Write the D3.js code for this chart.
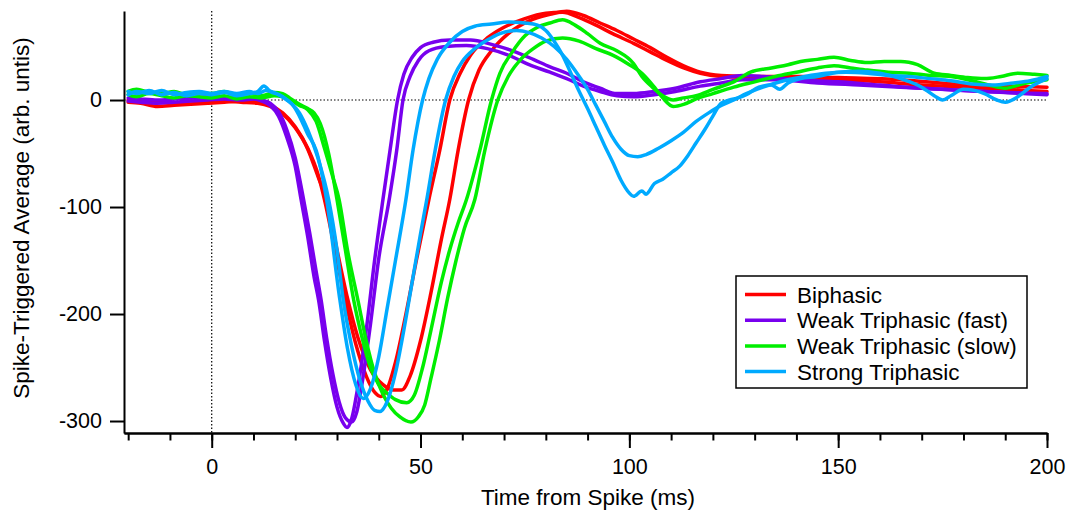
<!DOCTYPE html>
<html>
<head>
<meta charset="utf-8">
<script src="https://cdn.jsdelivr.net/npm/d3@7"></script>
<style>
  body { margin: 0; background: #fff; }
  text { font-family: "Liberation Sans", Arial, sans-serif; fill: #000; }
</style>
</head>
<body>
<div id="wrapper"></div>
<script>
// series: [time (ms), spike-triggered average]
const biphasicA = [[-20,-2],[-17,-3],[-13,-6],[-9,-5],[-5,-4],[-1,-3],[3,-2],[7,-1],[11,-2],[14,-5],[17,-12],[20,-25],[23,-45],[25.5,-70],[27,-93],[29.5,-140],[32,-187],[34.5,-228],[37,-258],[39,-273],[40.5,-277],[42,-270],[44,-245],[46.5,-200],[49,-150],[52,-93],[54.6,-47],[57,0],[59.5,25],[62,42],[66,58],[70,68],[75,76],[80,81],[84,82],[88,77],[92,70],[96,62],[101,53],[105,45],[109,37],[113,30],[117,25],[122,22],[130,21],[140,21],[150,19],[160,17],[170,14],[180,12],[190,10],[200,8]]
const biphasicB = [[-20,0],[-17,-1],[-13,-2],[-9,-3],[-5,-1],[-1,-2],[3,-1],[7,-2],[11,-3],[14,-6],[17,-13],[20,-26],[23,-46],[25.5,-72],[27.5,-93],[30,-140],[32.5,-185],[35,-222],[38,-252],[41,-266],[43.5,-271],[45.5,-271],[47.5,-258],[50,-225],[52.5,-180],[55,-130],[57,-93],[59,-47],[61.5,0],[64,28],[67,46],[71,62],[76,74],[81,80],[85,83],[89,79],[93,72],[97,65],[101,57],[105,49],[109,40],[113,32],[117,26],[122,23],[130,22],[141,22],[150,21],[165,19],[181,14],[190,13],[200,12]]

const fastA = [[-20,-1],[-17,-2],[-13,-3],[-9,-2],[-5,-1],[-1,0],[3,1],[7,0],[10,1],[12,-1],[14,-5],[16,-15],[18,-35],[20,-62],[21.4,-93],[23,-128],[24.5,-165],[25.6,-187],[27,-225],[28.5,-260],[30,-287],[31.5,-302],[32.4,-306],[33.5,-298],[35,-268],[37,-215],[39,-150],[41,-93],[42.7,-47],[44.5,0],[46,24],[48,40],[50,49],[53,54],[57,56],[62,56],[67,52],[72,46],[77,38],[81,31],[85,25],[89,17],[93,11],[97,6],[101,6],[106,8],[111,11],[117,17],[122,20],[127,23],[132,22],[140,19],[150,17],[160,14],[170,11],[180,9],[190,7],[200,5]]
const fastB = [[-20,2],[-17,1],[-13,0],[-9,1],[-5,2],[-1,3],[3,3],[7,2],[10,2],[12,0],[14,-3],[16,-11],[18,-28],[20,-54],[22,-93],[23.5,-125],[25,-160],[26.2,-187],[27.5,-222],[29,-256],[30.5,-282],[32,-297],[33.5,-301],[34.7,-292],[36.2,-260],[38,-210],[40,-148],[42.5,-93],[44.3,-47],[45.8,0],[47.5,22],[49.5,37],[52,46],[56,50],[61,51],[66,48],[71,42],[76,33],[81,26],[85,20],[89,13],[93,8],[97,4],[101,3],[106,5],[111,8],[117,13],[122,16],[127,19],[135,19],[145,16],[155,14],[165,12],[175,10],[185,8],[200,6]]

const slowA = [[-20,8],[-18,10],[-15,7],[-12,6],[-9,8],[-6,5],[-3,7],[0,6],[3,8],[6,5],[9,6],[12,4],[15,7],[17,6],[19,1],[21,-4],[23,-8],[24.5,-12],[26,-22],[28,-50],[30,-93],[32,-140],[34,-187],[36,-222],[38,-250],[40,-266],[42,-274],[44,-280],[46.7,-283],[48.5,-276],[50.5,-250],[52.5,-215],[55,-170],[57,-140],[59,-115],[61,-93],[64.2,-47],[67,0],[69,25],[72,45],[75,60],[78,68],[81,72],[84,75],[87,70],[90,62],[93,53],[97,46],[101,34],[103,22],[105.5,12],[108,4],[110.5,0],[113,2],[116,4],[120,10],[125,17],[129,26],[134,30],[138,33],[141,36],[145,38],[149,40],[153,37],[157,35],[161,36],[165,36],[169,33],[173,25],[177,23],[181,21],[185,20],[189,22],[193,25],[197,24],[200,23]]
const slowB = [[-20,5],[-18,3],[-15,6],[-12,4],[-9,2],[-6,4],[-3,3],[0,2],[3,4],[6,1],[9,3],[12,2],[15,4],[17,3],[19,0],[21,-5],[23,-9],[25,-20],[27,-45],[29,-72],[30.5,-93],[32.5,-140],[35,-187],[37,-225],[39,-255],[41,-275],[43,-288],[45,-296],[47.7,-301],[49.5,-296],[51,-285],[52.5,-260],[54.5,-225],[56.5,-185],[58.5,-150],[60.5,-120],[63,-93],[65.4,-47],[68.5,0],[71,22],[74,38],[77,48],[80,55],[84,58],[88,55],[92,48],[96,42],[100,33],[103,25],[106,12],[108,2],[110.5,-6],[113,-4],[116,1],[120,6],[125,12],[130,17],[135,22],[140,26],[145,30],[149,32],[153,30],[157,28],[162,26],[167,25],[172,23],[177,22],[182,18],[186,14],[190,11],[194,15],[200,19]]

const strongA = [[-20,8],[-18,6],[-15,9],[-12,5],[-9,7],[-6,4],[-3,6],[0,5],[3,7],[6,4],[9,6],[11,8],[12.5,13],[14,8],[16,5],[18,0],[19.5,-5],[21,-15],[23,-32],[25,-47],[27.5,-93],[30.7,-187],[32.5,-232],[34.5,-266],[36.3,-279],[38,-270],[40,-240],[42,-195],[44,-150],[46.5,-93],[48.2,-47],[50.5,0],[52,20],[54,38],[57,54],[60,64],[63,69],[67,71],[71,73],[75,72],[78,70],[80,65],[82,55],[84,42],[86,25],[88,8],[90,-8],[92,-25],[94,-42],[96,-58],[98,-75],[100,-87],[101,-90],[103,-85],[104,-88],[106,-78],[108,-74],[110,-68],[112,-62],[114,-52],[116,-40],[118,-28],[120,-15],[122,-3],[124,0],[126,2],[128,5],[131,12],[134,14],[136,10],[138,16],[141,20],[145,22],[150,26],[155,27],[160,25],[165,20],[170,12],[173,4],[175,0],[177,4],[180,10],[185,6],[188,0],[190,-2],[193,3],[196,12],[200,20]]
const strongB = [[-20,5],[-18,8],[-15,6],[-12,9],[-9,5],[-6,7],[-3,8],[0,6],[3,8],[6,6],[9,8],[11,6],[13,9],[15,7],[17,3],[19,-3],[21,-12],[23,-28],[25.5,-55],[28,-93],[30,-140],[31.5,-187],[33.5,-230],[35.5,-262],[37.5,-282],[39,-290],[40.3,-291],[42,-282],[44,-255],[46,-215],[48,-170],[50,-125],[51.5,-93],[53.5,-47],[56,0],[58,22],[60,36],[63,48],[66,56],[69,62],[73,65],[76,63],[79,58],[82,50],[85,38],[88,22],[90,10],[92,-5],[94,-20],[96,-35],[98,-46],[100,-52],[102,-53],[104,-51],[107,-45],[110,-38],[113,-30],[116,-20],[119,-12],[122,-5],[125,0],[128,6],[132,12],[137,18],[142,22],[147,25],[152,26],[157,25],[162,23],[167,22],[172,20],[177,18],[182,15],[187,14],[192,16],[196,18],[200,22]]

const categories = ["Biphasic", "Weak Triphasic (fast)", "Weak Triphasic (slow)", "Strong Triphasic"]
const colors = ["#ff0000", "#7800ee", "#00ee00", "#00aaff"]
const seriesByCategory = [
    [biphasicA, biphasicB],
    [fastA, fastB],
    [slowA, slowB],
    [strongA, strongB],
]
const xMajorTicks = [0, 50, 100, 150, 200]
const xMinorTicks = d3.range(-20, 201, 10)
const yTicks = [0, -100, -200, -300]

// dimensions
const dimensions = {
    width: 1077,
    height: 517,
    margin: { top: 11, right: 30, bottom: 84, left: 124 },
}
dimensions.boundedWidth = dimensions.width - dimensions.margin.left - dimensions.margin.right
dimensions.boundedHeight = dimensions.height - dimensions.margin.top - dimensions.margin.bottom

const svg = d3.select("#wrapper")
    .append("svg")
    .attr("width", dimensions.width)
    .attr("height", dimensions.height)

const bounds = svg.append("g")
    .attr("transform", `translate(${dimensions.margin.left},${dimensions.margin.top})`)

// scales
const xScale = d3.scaleLinear()
    .domain([-21, 200])
    .range([0, dimensions.boundedWidth])
const yScale = d3.scaleLinear()
    .domain([-311.2, 83.2])
    .range([dimensions.boundedHeight, 0])

// zero reference lines
bounds.append("line")
    .attr("x1", xScale(0)).attr("x2", xScale(0))
    .attr("y1", 0).attr("y2", dimensions.boundedHeight)
    .attr("stroke", "#000").attr("stroke-width", 1.2)
    .attr("stroke-dasharray", "1.5,2")
bounds.append("line")
    .attr("x1", 0).attr("x2", dimensions.boundedWidth)
    .attr("y1", yScale(0)).attr("y2", yScale(0))
    .attr("stroke", "#000").attr("stroke-width", 1.2)
    .attr("stroke-dasharray", "1.5,2")

// curves
const lineGenerator = d3.line()
    .x(d => xScale(d[0]))
    .y(d => yScale(d[1]))
    .curve(d3.curveMonotoneX)

seriesByCategory.forEach((group, i) => {
    bounds.append("g")
        .selectAll("path")
        .data(group)
        .join("path")
        .attr("d", lineGenerator)
        .attr("fill", "none")
        .attr("stroke", colors[i])
        .attr("stroke-width", 3.5)
        .attr("stroke-linejoin", "round")
        .attr("stroke-linecap", "round")
})

// axes
const xMinorAxis = bounds.append("g")
    .attr("transform", `translate(0,${dimensions.boundedHeight})`)
    .call(d3.axisBottom(xScale).tickValues(xMinorTicks).tickSize(7.5).tickSizeOuter(0).tickFormat(""))
const xMajorAxis = bounds.append("g")
    .attr("transform", `translate(0,${dimensions.boundedHeight})`)
    .call(d3.axisBottom(xScale).tickValues(xMajorTicks).tickSize(15).tickSizeOuter(0).tickPadding(11).tickFormat(d => String(d)))
const yAxis = bounds.append("g")
    .call(d3.axisLeft(yScale).tickValues(yTicks).tickSize(14).tickSizeOuter(0).tickPadding(8).tickFormat(d => String(d)))

bounds.selectAll(".domain, .tick line")
    .attr("stroke", "#000")
    .attr("stroke-width", 2)
bounds.selectAll(".tick text")
    .style("font-size", "21.5px")

xMajorAxis.append("text")
    .attr("x", 464)
    .attr("y", 72)
    .attr("text-anchor", "middle")
    .style("font-size", "22.5px")
    .text("Time from Spike (ms)")

yAxis.append("text")
    .attr("transform", "rotate(-90)")
    .attr("x", -(218 - dimensions.margin.top))
    .attr("y", -95)
    .attr("text-anchor", "middle")
    .style("font-size", "22.5px")
    .text("Spike-Triggered Average (arb. untis)")

// legend
const legend = svg.append("g")
    .attr("transform", "translate(736,276)")
legend.append("rect")
    .attr("width", 291)
    .attr("height", 112)
    .attr("fill", "#fff")
    .attr("stroke", "#000")
    .attr("stroke-width", 1.5)
const legendItems = legend.selectAll(".legend-item")
    .data(categories)
    .join("g")
    .attr("class", "legend-item")
    .attr("transform", (d, i) => `translate(0,${18.5 + i * 25.7})`)
legendItems.append("line")
    .attr("x1", 9).attr("x2", 50)
    .attr("stroke", (d, i) => colors[i])
    .attr("stroke-width", 3.5)
legendItems.append("text")
    .attr("x", 61)
    .attr("y", 8)
    .style("font-size", "22.5px")
    .text(d => d)
</script>
</body>
</html>
